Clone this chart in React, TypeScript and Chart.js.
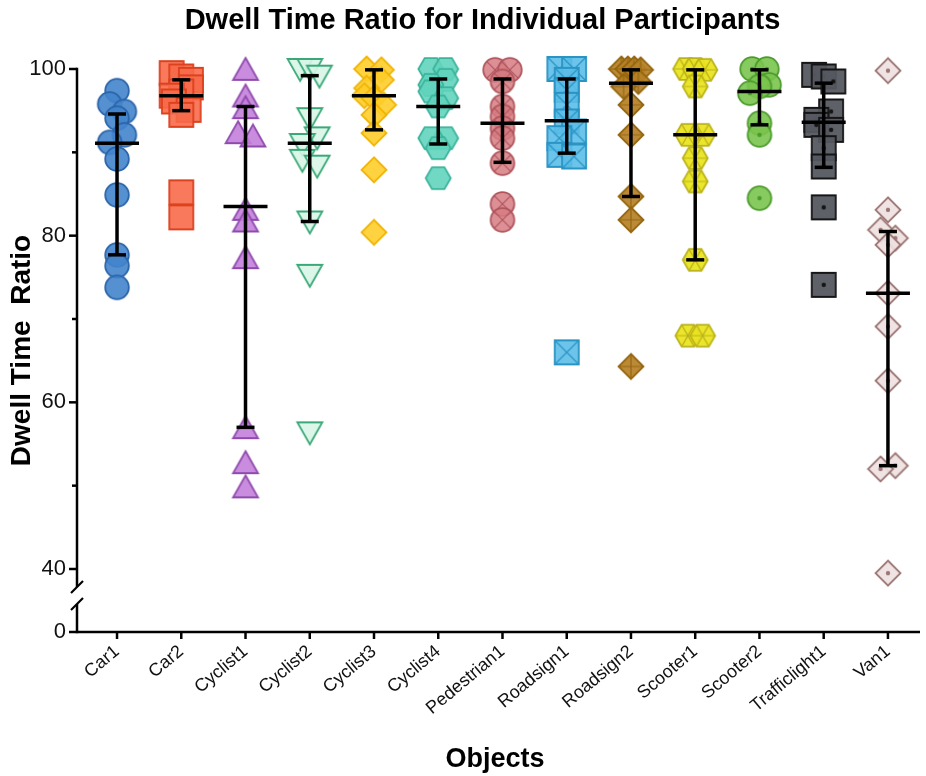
import React, { useEffect, useRef } from 'react';
import { Chart, registerables } from 'chart.js';

Chart.register(...registerables);

// ---------------- DATA ----------------
const categories = [
  'Car1', 'Car2', 'Cyclist1', 'Cyclist2', 'Cyclist3', 'Cyclist4', 'Pedestrian1',
  'Roadsign1', 'Roadsign2', 'Scooter1', 'Scooter2', 'Trafficlight1', 'Van1',
];

const car1 = [97.4, 95.8, 94.9, 94.1, 92.1, 91.2, 89.2, 84.9, 77.7, 76.4, 73.8];
const car2 = [99.5, 99.1, 98.7, 97.8, 97.3, 96.8, 96.1, 95.1, 94.5, 85.2, 82.2];
const cyclist1 = [99.9, 96.7, 95.3, 92.3, 91.9, 83.1, 81.7, 77.3, 56.9, 52.7, 49.8];
const cyclist2 = [100, 100, 99.2, 94.1, 91.8, 91.0, 89.1, 88.4, 81.7, 75.3, 56.4];
const cyclist3 = [100, 99.9, 98.7, 97.7, 96.8, 96.5, 95.7, 94.5, 92.3, 87.9, 80.4];
const cyclist4 = [100, 100, 98.7, 98.1, 97.3, 96.5, 95.5, 91.7, 91.7, 90.5, 86.9];
const pedestrian1 = [99.9, 99.9, 98.5, 95.5, 94.3, 92.9, 91.7, 88.7, 83.8, 81.9];
const roadsign1 = [100, 100, 98.7, 97.5, 95.7, 93.7, 92.5, 91.7, 89.7, 89.5, 66.0];
const roadsign2 = [100, 100, 100, 99.9, 98.5, 97.9, 95.7, 92.1, 84.7, 81.9, 64.3];
const scooter1 = [100, 100, 99.9, 97.9, 92.1, 92.1, 89.3, 86.5, 77.1, 68.0, 68.0];
const scooter2 = [100, 100, 98.1, 97.9, 97.1, 93.5, 92.1, 84.5];
const trafficlight1 = [99.3, 99.1, 98.5, 94.9, 93.9, 93.3, 92.7, 90.5, 88.3, 83.4, 74.1];
const van1 = [99.8, 83.1, 80.7, 79.7, 78.9, 73.1, 69.1, 62.6, 52.4, 52.0, 39.5];

// median and interquartile range (error bars)
const medians = [91.1, 96.8, 83.5, 91.1, 96.8, 95.5, 93.5, 93.8, 98.3, 92.1, 97.3, 93.6, 73.1];
const upperBars = [94.6, 98.7, 95.5, 99.2, 99.9, 98.8, 98.8, 98.8, 99.9, 99.9, 99.9, 98.3, 80.5];
const lowerBars = [77.7, 95.0, 57.0, 81.7, 92.7, 91.0, 88.8, 89.9, 84.7, 77.1, 93.3, 88.2, 52.4];

const yMajorTicks = [40, 60, 80, 100];
const yMinorTicks = [50, 70, 90];
const yBreakLabel = '0';
const Y_MAX = 100;
const Y_AXIS_FLOOR = 32.44; // bottom of the broken axis, labelled "0"

const seriesValues = [
  car1, car2, cyclist1, cyclist2, cyclist3, cyclist4, pedestrian1,
  roadsign1, roadsign2, scooter1, scooter2, trafficlight1, van1,
];

// ---------------- STYLES ----------------
type Shape = 'circle' | 'square' | 'triUp' | 'triDown' | 'diamond' | 'hexagon';
type Inner = 'none' | 'x' | 'plus' | 'dot' | 'tri';

const markerShapes: Shape[] = [
  'circle', 'square', 'triUp', 'triDown', 'diamond', 'hexagon', 'circle',
  'square', 'diamond', 'hexagon', 'circle', 'square', 'diamond',
];
const markerInner: Inner[] = [
  'none', 'none', 'none', 'none', 'none', 'none', 'x',
  'x', 'plus', 'tri', 'dot', 'dot', 'dot',
];
const fillColors = [
  'rgba(66,132,204,0.9)', 'rgba(247,106,74,0.9)', 'rgba(196,128,218,0.9)', 'rgba(216,246,232,0.9)',
  'rgba(255,205,42,0.9)', 'rgba(98,212,190,0.9)', 'rgba(214,124,130,0.85)', 'rgba(92,190,232,0.9)',
  'rgba(182,128,38,0.92)', 'rgba(234,228,32,0.95)', 'rgba(122,196,78,0.9)', 'rgba(86,89,97,0.95)',
  'rgba(238,224,224,0.9)',
];
const strokeColors = [
  '#2b65aa', '#dd421f', '#8f4aad', '#3aa877', '#f0b507', '#3cb39b', '#b0545c',
  '#2a94c4', '#94660f', '#bbb31a', '#4c9b2c', '#151515', '#9d7775',
];

const FONT = "'Liberation Sans', Arial, Helvetica, sans-serif";

function makeMarker(shape: Shape, inner: Inner, fill: string, stroke: string): HTMLCanvasElement {
  const S = 30;
  const c = S / 2;
  const cv = document.createElement('canvas');
  cv.width = S;
  cv.height = S;
  const g = cv.getContext('2d') as CanvasRenderingContext2D;
  g.lineJoin = 'miter';
  g.beginPath();
  if (shape === 'circle') {
    g.arc(c, c, 11.8, 0, Math.PI * 2);
  } else if (shape === 'square') {
    g.rect(c - 12, c - 12, 24, 24);
  } else if (shape === 'triUp') {
    g.moveTo(c, c - 12);
    g.lineTo(c + 12.5, c + 10);
    g.lineTo(c - 12.5, c + 10);
    g.closePath();
  } else if (shape === 'triDown') {
    g.moveTo(c, c + 12);
    g.lineTo(c + 12.5, c - 10);
    g.lineTo(c - 12.5, c - 10);
    g.closePath();
  } else if (shape === 'diamond') {
    g.moveTo(c, c - 12.5);
    g.lineTo(c + 12.5, c);
    g.lineTo(c, c + 12.5);
    g.lineTo(c - 12.5, c);
    g.closePath();
  } else {
    for (let k = 0; k < 6; k++) {
      const a = (k * Math.PI) / 3;
      const px = c + 12.5 * Math.cos(a);
      const py = c + 12.5 * Math.sin(a);
      if (k === 0) g.moveTo(px, py);
      else g.lineTo(px, py);
    }
    g.closePath();
  }
  g.fillStyle = fill;
  g.fill();
  g.strokeStyle = stroke;
  g.lineWidth = 1.8;
  g.stroke();
  g.lineWidth = 1.2;
  if (inner === 'x') {
    const d = shape === 'circle' ? 8.3 : 12;
    g.beginPath();
    g.moveTo(c - d, c - d); g.lineTo(c + d, c + d);
    g.moveTo(c + d, c - d); g.lineTo(c - d, c + d);
    g.stroke();
  } else if (inner === 'plus') {
    g.beginPath();
    g.moveTo(c, c - 12.5); g.lineTo(c, c + 12.5);
    g.moveTo(c - 12.5, c); g.lineTo(c + 12.5, c);
    g.stroke();
  } else if (inner === 'dot') {
    g.beginPath();
    g.arc(c, c, 2.2, 0, Math.PI * 2);
    g.fillStyle = stroke;
    g.fill();
  } else if (inner === 'tri') {
    g.beginPath();
    for (let k = 0; k < 3; k++) {
      const a = (k * Math.PI) / 3;
      g.moveTo(c + 12.5 * Math.cos(a), c + 12.5 * Math.sin(a));
      g.lineTo(c - 12.5 * Math.cos(a), c - 12.5 * Math.sin(a));
    }
    g.stroke();
  }
  return cv;
}

// GraphPad-like scatter spread: values within a row are spread symmetrically
function swarmOffsets(values: number[]): number[] {
  const rowThreshold = 1.2;
  const order = values.map((v, i) => i).sort((a, b) => values[b] - values[a]);
  const offsets = new Array(values.length).fill(0);
  let row: number[] = [];
  let flip = 1;
  const flush = () => {
    const n = row.length;
    const spacing = n > 1 ? Math.min(0.23, 0.3 / (n - 1)) : 0;
    row.forEach((idx, k) => {
      offsets[idx] = flip * (k - (n - 1) / 2) * spacing;
    });
    if (n > 1) flip = -flip;
    row = [];
  };
  order.forEach((idx) => {
    if (row.length && values[row[0]] - values[idx] > rowThreshold) flush();
    row.push(idx);
  });
  flush();
  return offsets;
}

function strokeLine(ctx: CanvasRenderingContext2D, x1: number, y1: number, x2: number, y2: number) {
  ctx.beginPath();
  ctx.moveTo(x1, y1);
  ctx.lineTo(x2, y2);
  ctx.stroke();
}

const overlayPlugin = {
  id: 'overlayAxesAndBars',
  afterDatasetsDraw(chart: any) {
    const { ctx, chartArea, scales } = chart;
    const x = scales.x;
    const y = scales.y;
    ctx.save();
    ctx.strokeStyle = '#000';
    ctx.lineCap = 'butt';
    // error bars
    ctx.lineWidth = 3.5;
    categories.forEach((_, i) => {
      const px = x.getPixelForValue(i);
      const pm = y.getPixelForValue(medians[i]);
      const pu = y.getPixelForValue(upperBars[i]);
      const pl = y.getPixelForValue(lowerBars[i]);
      strokeLine(ctx, px, pu, px, pl);
      strokeLine(ctx, px - 9, pu, px + 9, pu);
      strokeLine(ctx, px - 9, pl, px + 9, pl);
      strokeLine(ctx, px - 22, pm, px + 22, pm);
    });
    // axes
    ctx.lineWidth = 2.5;
    const ax = chartArea.left;
    const bottom = chartArea.bottom;
    const p40 = y.getPixelForValue(40);
    const breakTop = p40 + 18;
    const breakBot = p40 + 35;
    strokeLine(ctx, ax, y.getPixelForValue(Y_MAX) - 1.2, ax, breakTop);
    strokeLine(ctx, ax, breakBot, ax, bottom + 1.2);
    ctx.lineWidth = 2.2;
    strokeLine(ctx, ax - 6, breakTop + 6, ax + 6, breakTop - 6);
    strokeLine(ctx, ax - 6, breakBot + 6, ax + 6, breakBot - 6);
    ctx.lineWidth = 2.5;
    yMajorTicks.forEach((v) => {
      const py = y.getPixelForValue(v);
      strokeLine(ctx, ax - 8, py, ax, py);
    });
    yMinorTicks.forEach((v) => {
      const py = y.getPixelForValue(v);
      strokeLine(ctx, ax - 5, py, ax, py);
    });
    strokeLine(ctx, ax - 8, bottom, chart.width - 6, bottom);
    categories.forEach((_, i) => {
      const px = x.getPixelForValue(i);
      strokeLine(ctx, px, bottom, px, bottom + 7);
    });
    ctx.restore();
  },
};

export default function App() {
  const ref = useRef<HTMLCanvasElement | null>(null);

  useEffect(() => {
    document.body.style.margin = '0';
    const canvas = ref.current;
    if (!canvas) return;

    const datasets = seriesValues.map((vals, i) => {
      const offs = swarmOffsets(vals);
      return {
        label: categories[i],
        data: vals.map((v, j) => ({ x: i + offs[j], y: v })),
        pointStyle: makeMarker(markerShapes[i], markerInner[i], fillColors[i], strokeColors[i]),
        pointRadius: 12,
        showLine: false,
        clip: false as any,
      };
    });

    const chart = new Chart(canvas, {
      type: 'scatter',
      data: { datasets: datasets as any },
      plugins: [overlayPlugin],
      options: {
        responsive: false,
        animation: false,
        events: [],
        layout: { padding: { left: 29, right: -10, top: 0, bottom: 0 } },
        plugins: {
          legend: { display: false },
          tooltip: { enabled: false },
          title: {
            display: true,
            text: 'Dwell Time Ratio for Individual Participants',
            color: '#000',
            font: { family: FONT, size: 29, weight: 'bold', lineHeight: 1.2 },
            padding: { top: 4, bottom: 30.2 },
          },
        },
        scales: {
          x: {
            type: 'linear',
            min: -0.623,
            max: 12.39,
            grid: { display: false, drawTicks: false },
            border: { display: false },
            afterBuildTicks: (scale: any) => {
              scale.ticks = categories.map((_, i) => ({ value: i }));
            },
            afterFit: (scale: any) => {
              scale.height = 144;
              scale.paddingLeft = 0;
              scale.paddingRight = 0;
            },
            ticks: {
              autoSkip: false,
              minRotation: 40,
              maxRotation: 40,
              padding: 9,
              color: '#111',
              font: { family: FONT, size: 18 },
              callback: (v: any) => categories[Math.round(Number(v))] ?? '',
            },
            title: {
              display: true,
              text: 'Objects',
              color: '#000',
              font: { family: FONT, size: 27, weight: 'bold', lineHeight: 1.2 },
              padding: { top: 0, bottom: 0 },
            },
          },
          y: {
            type: 'linear',
            min: Y_AXIS_FLOOR,
            max: Y_MAX,
            grid: { display: false, drawTicks: false },
            border: { display: false },
            afterBuildTicks: (scale: any) => {
              scale.ticks = [Y_AXIS_FLOOR, ...yMajorTicks].map((v) => ({ value: v }));
            },
            afterFit: (scale: any) => {
              scale.width = 48;
            },
            ticks: {
              padding: 11,
              color: '#111',
              font: { family: FONT, size: 22 },
              callback: (v: any) => (Number(v) === Y_AXIS_FLOOR ? yBreakLabel : String(v)),
            },
            title: {
              display: true,
              text: 'Dwell Time  Ratio',
              color: '#000',
              font: { family: FONT, size: 28, weight: 'bold', lineHeight: 1.2 },
              padding: { top: -23.8, bottom: 0 },
            },
          },
        },
      },
    });

    return () => chart.destroy();
  }, []);

  return (
    <div style={{ width: 926, height: 776 }}>
      <canvas ref={ref} width={926} height={776} style={{ display: 'block' }} />
    </div>
  );
}
